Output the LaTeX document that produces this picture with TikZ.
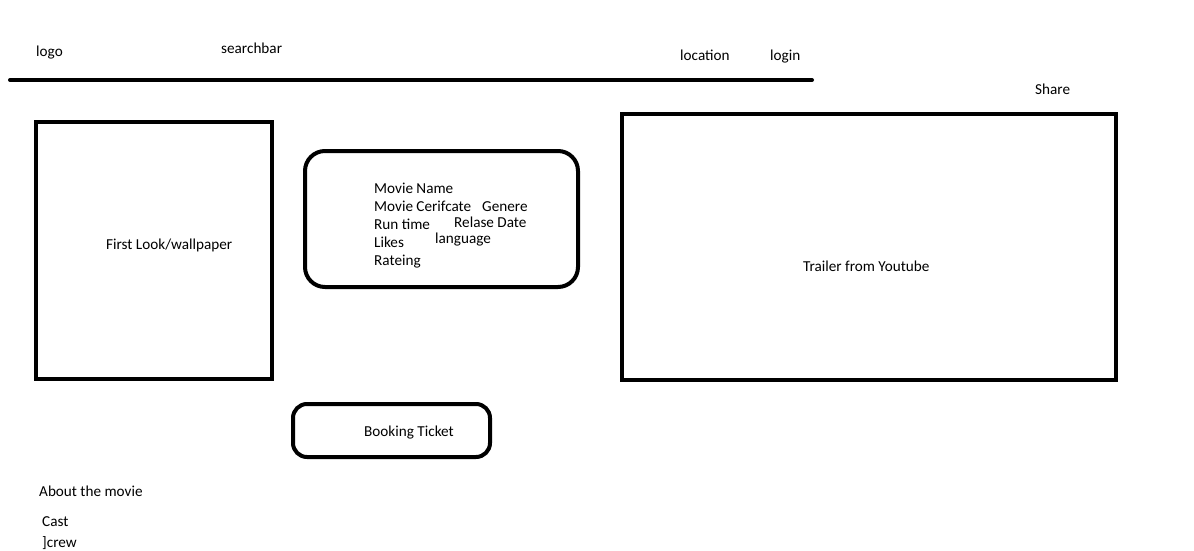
\documentclass[tikz,border=0pt]{standalone}
\usepackage{fontspec}
\setmainfont{Carlito}
\usepackage{tikz}

\begin{document}
\begin{tikzpicture}[x=1pt,y=-1pt,
    label/.style={anchor=base west,inner sep=0pt,font=\fontsize{15.2}{18}\selectfont},
    frame/.style={line width=4pt}]

    \useasboundingbox (0,0) rectangle (1194,551);

    % Header
    \node[label] (logo) at (36,57) {logo};
    \node[label] (search) at (221,54) {searchbar};
    \node[label] (location) at (680,61) {location};
    \node[label] (login) at (770,61) {login};
    \draw[frame,line cap=round] (10,80) -- (812,80);
    \node[label] (share) at (1035,95) {Share};

    % Wallpaper
    \draw[frame] (36,122) rectangle (272,379);
    \node[label] (wall) at (106,249) {First Look/wallpaper};

    % Details
    \draw[frame,rounded corners=20pt] (305,151) rectangle (578,287);
    \node[label] (name) at (374,193) {Movie Name};
    \node[label] (cert) at (374,211) {Movie Cerifcate};
    \node[label] (genre) at (482,211) {Genere};
    \node[label] (runtime) at (374,229) {Run time};
    \node[label] (release) at (454,227) {Relase Date};
    \node[label] (likes) at (374,247) {Likes};
    \node[label] (lang) at (435,243) {language};
    \node[label] (rating) at (374,265) {Rateing};

    % Trailer
    \draw[frame] (622,114) rectangle (1116,380);
    \node[label] (trailer) at (803,271) {Trailer from Youtube};

    % Booking
    \draw[frame,rounded corners=14pt] (293,404) rectangle (490,457);
    \node[label] (booking) at (364,436) {Booking Ticket};

    % About
    \node[label] (about) at (39,496) {About the movie};
    \node[label] (cast) at (42,526) {Cast};
    \node[label] (crew) at (42,547) {]crew};

\end{tikzpicture}
\end{document}
